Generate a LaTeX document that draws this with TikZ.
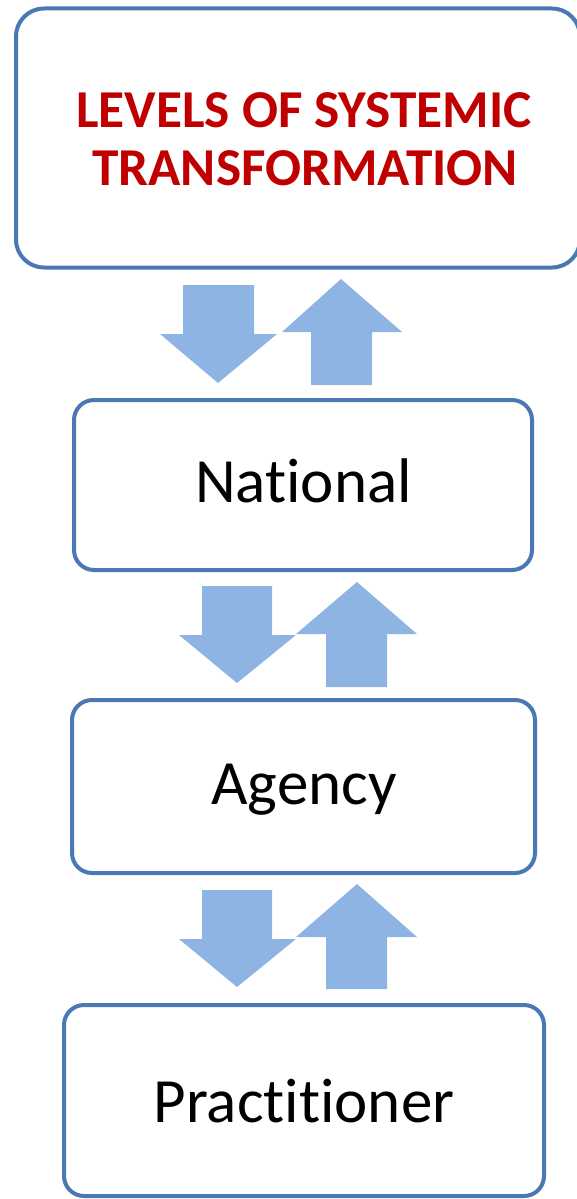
\documentclass[tikz,border=0pt]{standalone}
\usepackage{fontspec}
\setmainfont[Ligatures=NoCommon,RawFeature={-liga;-dlig;-clig}]{Carlito}
\definecolor{boxline}{HTML}{4A78B2}
\definecolor{arrowfill}{HTML}{8EB4E3}
\definecolor{titlered}{HTML}{C00000}
\begin{document}
\begin{tikzpicture}[x=1pt,y=-1pt,
  levelbox/.style={draw=boxline, line width=4pt, rounded corners=20pt, fill=white, inner sep=0pt},
  leveltext/.style={anchor=base, inner sep=0pt, font=\fontsize{63}{70}\selectfont},
  titletext/.style={anchor=base, inner sep=0pt, text=titlered, font=\fontsize{53.3}{58}\selectfont\bfseries},
  blockarrow/.style={fill=arrowfill, draw=none}]
\useasboundingbox (0,0) rectangle (577,1199);
% boxes
\node[levelbox, rounded corners=28pt, minimum width=564pt, minimum height=259pt] (top) at (298,138) {};
\node[titletext] (title1) at (304,127) {LEVELS OF SYSTEMIC};
\node[titletext] (title2) at (305,185) {TRANSFORMATION};
\node[levelbox, minimum width=458pt, minimum height=170pt] (nat) at (303,485) {};
\node[leveltext] (natt) at (303.5,502) {National};
\node[levelbox, minimum width=463pt, minimum height=173pt] (agy) at (303.5,786.5) {};
\node[leveltext] (agyt) at (304,804) {Agency};
\node[levelbox, minimum width=480pt, minimum height=191pt] (pra) at (304,1100.5) {};
\node[leveltext] (prat) at (304,1122) {Prac\kern0ptt\kern0pti\kern0ptt\kern0pti\kern0ptoner};
% arrows between top and national
\fill[blockarrow] (183,285) -- (254,285) -- (254,334) -- (277,334) -- (218,383) -- (160,334) -- (183,334) -- cycle;
\fill[blockarrow] (341,279) -- (402,332) -- (372,332) -- (372,385) -- (311,385) -- (311,332) -- (282,332) -- cycle;
% arrows between national and agency
\fill[blockarrow] (202,586) -- (272,586) -- (272,635) -- (296,635) -- (237,683) -- (179,635) -- (202,635) -- cycle;
\fill[blockarrow] (357,582) -- (417,634) -- (387,634) -- (387,687) -- (326,687) -- (326,634) -- (296,634) -- cycle;
% arrows between agency and practitioner
\fill[blockarrow] (202,890) -- (272,890) -- (272,939) -- (296,939) -- (237,987) -- (179,939) -- (202,939) -- cycle;
\fill[blockarrow] (357,884) -- (417,937) -- (387,937) -- (387,989) -- (326,989) -- (326,937) -- (296,937) -- cycle;
\end{tikzpicture}
\end{document}
